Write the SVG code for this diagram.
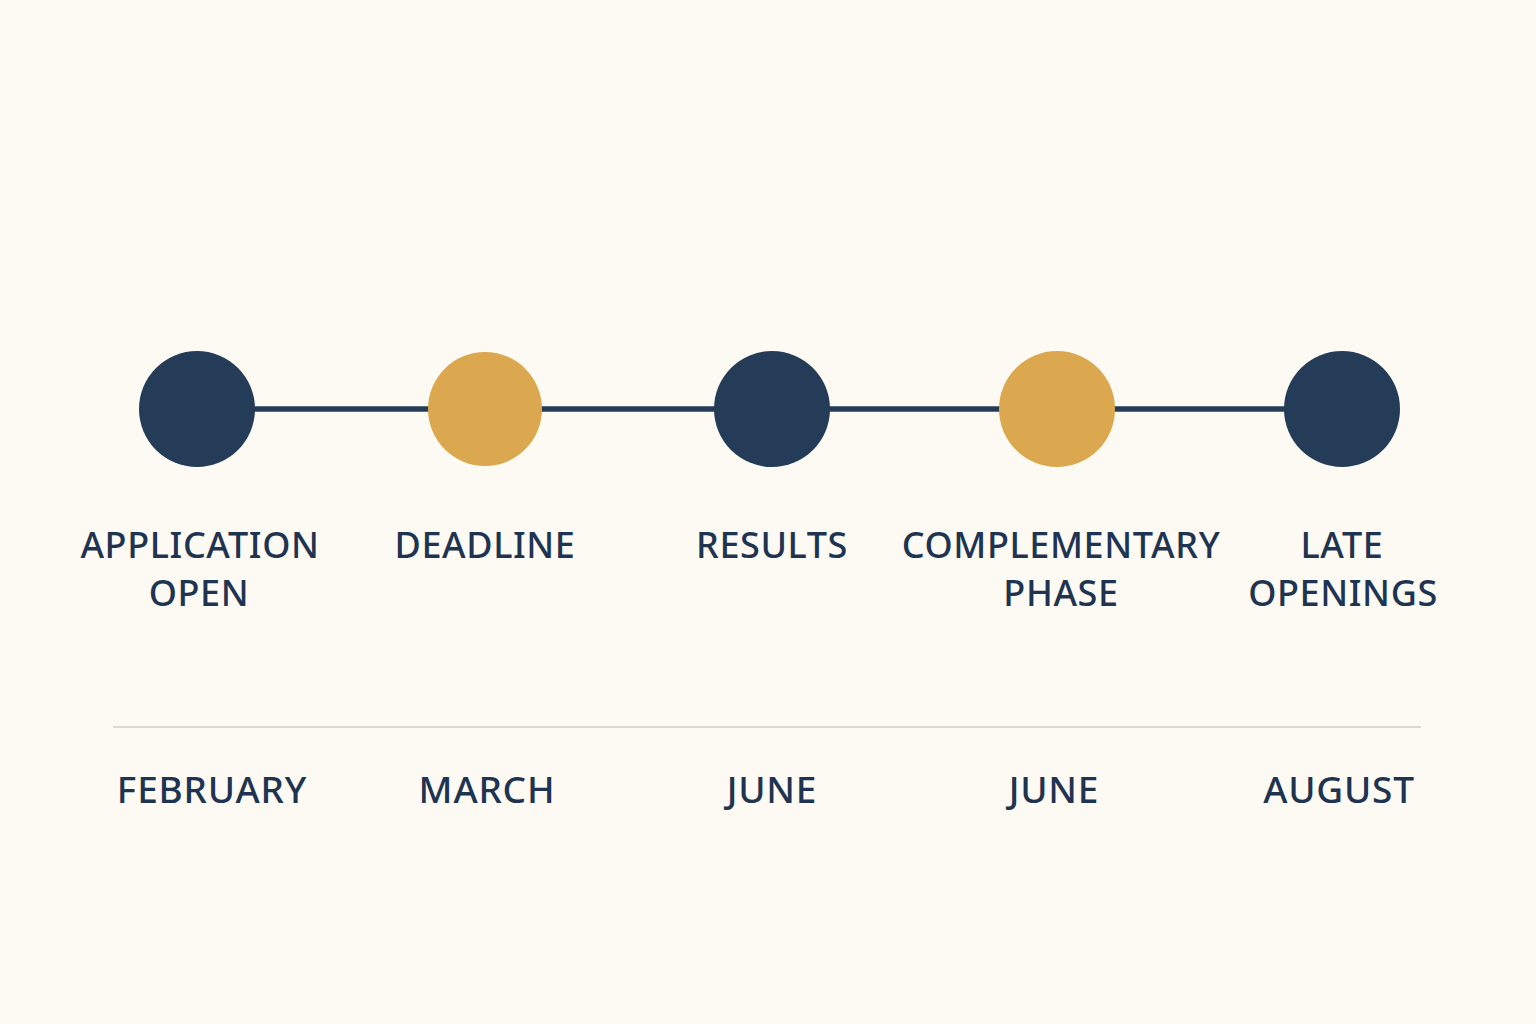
<svg xmlns="http://www.w3.org/2000/svg" width="1536" height="1024" viewBox="0 0 1536 1024">
<style>
.bg{fill:#FDFAF4}
.dark{fill:#243C57}
.gold{fill:#DBA84F}
.lbl{font-family:"Noto Sans","Open Sans",sans-serif;font-size:36px;font-weight:500;fill:#1E3450;text-anchor:middle;letter-spacing:0.6px}
.mon{font-size:37px;letter-spacing:0.8px}
.conn{stroke:#243C57;stroke-width:5.5;fill:none}
.rule{stroke:#DDDAD4;stroke-width:2;fill:none}
</style>
<rect class="bg" x="0" y="0" width="1536" height="1024"/>
<g id="connectors">
<line class="conn" x1="197" y1="409" x2="1342" y2="409"/>
</g>
<line class="rule" x1="113" y1="727" x2="1421" y2="727"/>
<g id="node-application-open">
<circle class="dark" cx="197" cy="409" r="58"/>
<text class="lbl" x="200" y="558">APPLICATION</text>
<text class="lbl" x="199" y="606">OPEN</text>
<text class="lbl mon" x="212" y="803">FEBRUARY</text>
</g>
<g id="node-deadline">
<circle class="gold" cx="485" cy="409" r="57"/>
<text class="lbl" x="485" y="558">DEADLINE</text>
<text class="lbl mon" x="487" y="803">MARCH</text>
</g>
<g id="node-results">
<circle class="dark" cx="772" cy="409" r="58"/>
<text class="lbl" x="772" y="558">RESULTS</text>
<text class="lbl mon" x="772" y="803">JUNE</text>
</g>
<g id="node-complementary-phase">
<circle class="gold" cx="1057" cy="409" r="58"/>
<text class="lbl" x="1061" y="558">COMPLEMENTARY</text>
<text class="lbl" x="1061" y="606">PHASE</text>
<text class="lbl mon" x="1054" y="803">JUNE</text>
</g>
<g id="node-late-openings">
<circle class="dark" cx="1342" cy="409" r="58"/>
<text class="lbl" x="1342" y="558">LATE</text>
<text class="lbl" x="1343" y="606">OPENINGS</text>
<text class="lbl mon" x="1339" y="803">AUGUST</text>
</g>
</svg>
